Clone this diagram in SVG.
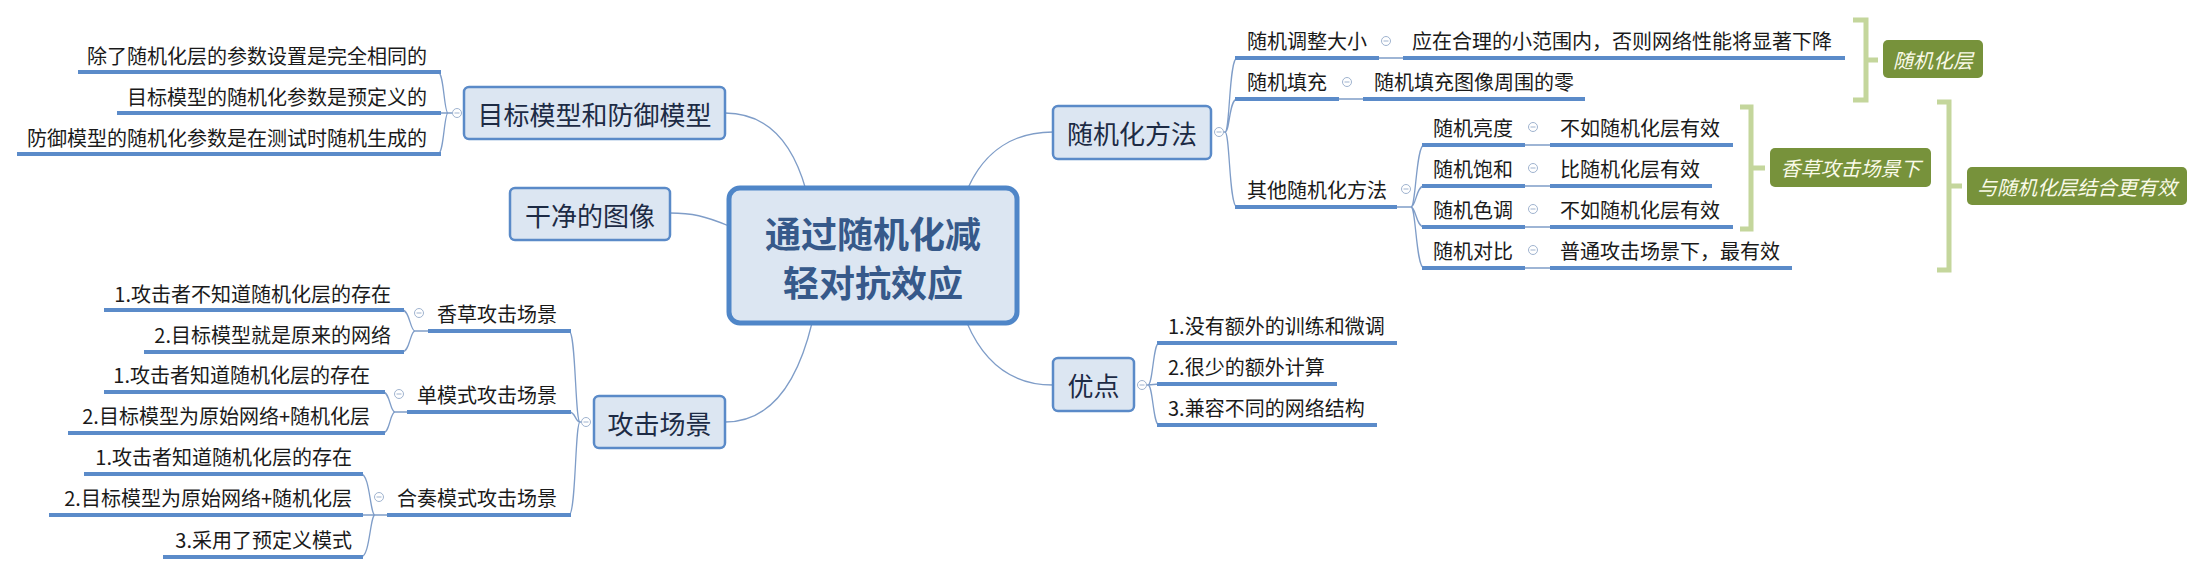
<svg xmlns="http://www.w3.org/2000/svg" xmlns:xlink="http://www.w3.org/1999/xlink" width="2204" height="573" viewBox="0 0 2204 573">
<style>
.conn{fill:none;stroke:#7f9dc8;stroke-width:1.3}
.ul{stroke:#5b8bc9;stroke-width:4;fill:none}
.t{font-family:"Noto Sans CJK SC","Noto Sans",sans-serif;font-size:20px;fill:#1a1a1a;dominant-baseline:central}
.e{text-anchor:end}
.box{fill:#dce6f2;stroke:#5a8ac8;stroke-width:2.5}
.bt{font-family:"Noto Sans CJK SC","Noto Sans",sans-serif;font-size:26px;fill:#1d2b45;text-anchor:middle;dominant-baseline:central}
.ct{font-family:"Noto Sans CJK SC","Noto Sans",sans-serif;font-size:36px;font-weight:700;fill:#36598a;text-anchor:middle}
.br{fill:none;stroke:#c4d69c;stroke-width:5}
.gb{fill:#77923b}
.gt{font-family:"Noto Sans CJK SC","Noto Sans",sans-serif;font-size:20px;font-style:italic;fill:#fafae8;text-anchor:middle;dominant-baseline:central}
</style>
<defs>
<g id="btn"><circle r="4.5" fill="#ffffff" stroke="#9fb3cf" stroke-width="1"/><line x1="-2.5" y1="0" x2="2.5" y2="0" stroke="#9fb3cf" stroke-width="1"/></g>
</defs>
<rect width="2204" height="573" fill="#ffffff"/>

<g id="connectors">
<!-- center to level 1 -->
<path class="conn" d="M806,190 C792,140 765,113 725,113"/>
<path class="conn" d="M729,226 C705,216 692,213 670,213"/>
<path class="conn" d="M812,323 C797,385 770,422 725,422"/>
<path class="conn" d="M968,188 C985,150 1015,132 1053,132"/>
<path class="conn" d="M967,323 C985,365 1015,385 1053,385"/>
<!-- 目标模型 group -->
<path class="conn" d="M453,113 L448,113 C444,113 444,72 438,72 M448,113 L438,113 M448,113 C444,113 444,154 438,154"/>
<!-- 攻击场景 group -->
<path class="conn" d="M582,422 L580,422 C575,422 576,331 569,331 M580,422 C575,422 576,412 569,412 M580,422 C575,422 576,515 569,515"/>
<path class="conn" d="M428,331 L415,331 C410,331 410,310 402,310 M415,331 C410,331 410,352 402,352"/>
<path class="conn" d="M407,412 L395,412 C390,412 390,392 383,392 M395,412 C390,412 390,433 383,433"/>
<path class="conn" d="M387,515 L375,515 C370,515 370,474 361,474 M375,515 L361,515 M375,515 C370,515 370,557 361,557"/>
<!-- 随机化方法 group -->
<path class="conn" d="M1223,132 L1225,132 C1230,132 1229,58 1237,58 M1225,132 C1230,132 1229,99 1237,99 M1225,132 C1230,132 1229,207 1237,207"/>
<path class="conn" d="M1379,58 L1403,58 M1339,99 L1363,99"/>
<path class="conn" d="M1397,207 L1411,207 C1416,207 1416,145 1424,145 M1411,207 C1416,207 1416,186 1424,186 M1411,207 C1416,207 1416,227 1424,227 M1411,207 C1416,207 1416,268 1424,268"/>
<path class="conn" d="M1525,145 L1550,145 M1525,186 L1550,186 M1525,227 L1550,227 M1525,268 L1550,268"/>
<!-- 优点 group -->
<path class="conn" d="M1146,385 L1148,385 C1153,385 1153,343 1159,343 M1148,385 L1159,384 M1148,385 C1153,385 1153,425 1159,425"/>
</g>

<g id="center">
<rect x="729" y="188" width="288" height="135" rx="11" fill="#dce6f2" stroke="#4f86c8" stroke-width="5"/>
<text class="ct" x="873" y="248">通过随机化减</text>
<text class="ct" x="873" y="297">轻对抗效应</text>
</g>

<g id="n-model">
<rect class="box" x="464" y="87" width="261" height="52" rx="5"/>
<text class="bt" x="594.5" y="113">目标模型和防御模型</text>
<use xlink:href="#btn" x="457" y="113"/>
</g>
<g id="n-model-1"><text class="t e" x="427" y="55">除了随机化层的参数设置是完全相同的</text><line class="ul" x1="78" y1="72" x2="441" y2="72"/></g>
<g id="n-model-2"><text class="t e" x="427" y="96">目标模型的随机化参数是预定义的</text><line class="ul" x1="117" y1="113" x2="441" y2="113"/></g>
<g id="n-model-3"><text class="t e" x="427" y="137">防御模型的随机化参数是在测试时随机生成的</text><line class="ul" x1="17" y1="154" x2="441" y2="154"/></g>

<g id="n-clean">
<rect class="box" x="510" y="188" width="160" height="52" rx="5"/>
<text class="bt" x="590" y="214">干净的图像</text>
</g>

<g id="n-attack">
<rect class="box" x="594" y="396" width="131" height="52" rx="5"/>
<text class="bt" x="659.5" y="422">攻击场景</text>
<use xlink:href="#btn" x="586" y="422"/>
</g>
<g id="n-vanilla"><text class="t e" x="557" y="313">香草攻击场景</text><line class="ul" x1="428" y1="331" x2="571" y2="331"/><use xlink:href="#btn" x="419" y="313"/></g>
<g id="n-vanilla-1"><text class="t e" x="391" y="293">1.攻击者不知道随机化层的存在</text><line class="ul" x1="104" y1="310" x2="404" y2="310"/></g>
<g id="n-vanilla-2"><text class="t e" x="391" y="334">2.目标模型就是原来的网络</text><line class="ul" x1="144" y1="352" x2="404" y2="352"/></g>
<g id="n-single"><text class="t e" x="557" y="394">单模式攻击场景</text><line class="ul" x1="407" y1="412" x2="571" y2="412"/><use xlink:href="#btn" x="399" y="394"/></g>
<g id="n-single-1"><text class="t e" x="370" y="374">1.攻击者知道随机化层的存在</text><line class="ul" x1="104" y1="392" x2="385" y2="392"/></g>
<g id="n-single-2"><text class="t e" x="370" y="415">2.目标模型为原始网络+随机化层</text><line class="ul" x1="68" y1="433" x2="385" y2="433"/></g>
<g id="n-ensemble"><text class="t e" x="557" y="497">合奏模式攻击场景</text><line class="ul" x1="387" y1="515" x2="571" y2="515"/><use xlink:href="#btn" x="379" y="497"/></g>
<g id="n-ensemble-1"><text class="t e" x="352" y="456">1.攻击者知道随机化层的存在</text><line class="ul" x1="84" y1="474" x2="363" y2="474"/></g>
<g id="n-ensemble-2"><text class="t e" x="352" y="497">2.目标模型为原始网络+随机化层</text><line class="ul" x1="49" y1="515" x2="363" y2="515"/></g>
<g id="n-ensemble-3"><text class="t e" x="352" y="539">3.采用了预定义模式</text><line class="ul" x1="163" y1="557" x2="363" y2="557"/></g>

<g id="n-method">
<rect class="box" x="1053" y="106" width="158" height="53" rx="5"/>
<text class="bt" x="1132" y="132">随机化方法</text>
<use xlink:href="#btn" x="1219" y="132"/>
</g>
<g id="n-resize"><text class="t" x="1247" y="40">随机调整大小</text><line class="ul" x1="1235" y1="58" x2="1379" y2="58"/><use xlink:href="#btn" x="1386" y="41"/></g>
<g id="n-resize-1"><text class="t" x="1412" y="40">应在合理的小范围内，否则网络性能将显著下降</text><line class="ul" x1="1403" y1="58" x2="1845" y2="58"/></g>
<g id="n-pad"><text class="t" x="1247" y="81">随机填充</text><line class="ul" x1="1235" y1="99" x2="1339" y2="99"/><use xlink:href="#btn" x="1347" y="82"/></g>
<g id="n-pad-1"><text class="t" x="1374" y="81">随机填充图像周围的零</text><line class="ul" x1="1363" y1="99" x2="1585" y2="99"/></g>
<g id="n-other"><text class="t" x="1247" y="189">其他随机化方法</text><line class="ul" x1="1235" y1="207" x2="1397" y2="207"/><use xlink:href="#btn" x="1406" y="189"/></g>
<g id="n-bright"><text class="t" x="1433" y="127">随机亮度</text><line class="ul" x1="1422" y1="145" x2="1525" y2="145"/><use xlink:href="#btn" x="1533" y="127"/></g>
<g id="n-bright-1"><text class="t" x="1560" y="127">不如随机化层有效</text><line class="ul" x1="1550" y1="145" x2="1733" y2="145"/></g>
<g id="n-sat"><text class="t" x="1433" y="168">随机饱和</text><line class="ul" x1="1422" y1="186" x2="1525" y2="186"/><use xlink:href="#btn" x="1533" y="168"/></g>
<g id="n-sat-1"><text class="t" x="1560" y="168">比随机化层有效</text><line class="ul" x1="1550" y1="186" x2="1712" y2="186"/></g>
<g id="n-hue"><text class="t" x="1433" y="209">随机色调</text><line class="ul" x1="1422" y1="227" x2="1525" y2="227"/><use xlink:href="#btn" x="1533" y="209"/></g>
<g id="n-hue-1"><text class="t" x="1560" y="209">不如随机化层有效</text><line class="ul" x1="1550" y1="227" x2="1733" y2="227"/></g>
<g id="n-contrast"><text class="t" x="1433" y="250">随机对比</text><line class="ul" x1="1422" y1="268" x2="1525" y2="268"/><use xlink:href="#btn" x="1533" y="250"/></g>
<g id="n-contrast-1"><text class="t" x="1560" y="250">普通攻击场景下，最有效</text><line class="ul" x1="1550" y1="268" x2="1792" y2="268"/></g>

<g id="n-adv">
<rect class="box" x="1053" y="358" width="81" height="53" rx="5"/>
<text class="bt" x="1093.5" y="384">优点</text>
<use xlink:href="#btn" x="1142" y="385"/>
</g>
<g id="n-adv-1"><text class="t" x="1168" y="325">1.没有额外的训练和微调</text><line class="ul" x1="1157" y1="343" x2="1397" y2="343"/></g>
<g id="n-adv-2"><text class="t" x="1168" y="366">2.很少的额外计算</text><line class="ul" x1="1157" y1="384" x2="1337" y2="384"/></g>
<g id="n-adv-3"><text class="t" x="1168" y="407">3.兼容不同的网络结构</text><line class="ul" x1="1157" y1="425" x2="1377" y2="425"/></g>

<g id="s-layer">
<path class="br" d="M1853,20 H1866 V100 H1853 M1866,60 H1878"/>
<rect class="gb" x="1883" y="40" width="100" height="38" rx="5"/>
<text class="gt" x="1933" y="59">随机化层</text>
</g>
<g id="s-vanilla">
<path class="br" d="M1740,107 H1751 V229 H1740 M1751,168 H1765"/>
<rect class="gb" x="1770" y="148" width="161" height="39" rx="5"/>
<text class="gt" x="1850.5" y="167.5">香草攻击场景下</text>
</g>
<g id="s-combine">
<path class="br" d="M1937,102 H1949 V270 H1937 M1949,186 H1962"/>
<rect class="gb" x="1967" y="167" width="220" height="38" rx="5"/>
<text class="gt" x="2077" y="186">与随机化层结合更有效</text>
</g>
</svg>
